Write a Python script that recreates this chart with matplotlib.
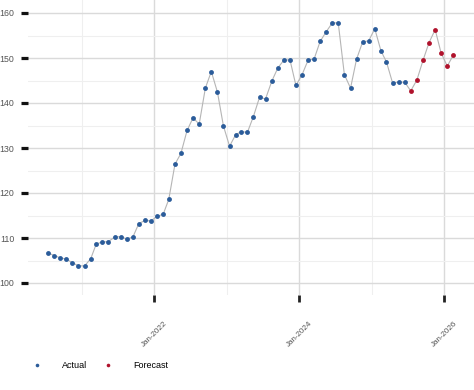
import matplotlib
matplotlib.use("Agg")
import matplotlib.pyplot as plt
import matplotlib.dates as mdates
from matplotlib.lines import Line2D
import datetime as dt

actual_start = (2020, 7)
actual_values = [106.7, 106.1, 105.6, 105.3, 104.5, 103.8,
                 103.8, 105.4, 108.7, 109.1, 109.2, 110.2, 110.3, 109.8, 110.2, 113.2, 113.9, 113.8,
                 114.8, 115.3, 118.6, 126.4, 128.8, 133.9, 136.7, 135.3, 143.3, 147.0, 142.4, 134.9,
                 130.4, 133.0, 133.6, 133.5, 137.0, 141.3, 140.9, 144.8, 147.8, 149.5, 149.6, 143.9,
                 146.3, 149.6, 149.7, 153.7, 155.8, 157.8, 157.8, 146.3, 143.3, 149.7, 153.6, 153.8,
                 156.5, 151.6, 149.1, 144.4, 144.7, 144.6]
forecast_values = [142.7, 145.1, 149.5, 153.4, 156.3, 151.1, 148.2, 150.7]
tick_labels = ["Jan-2022", "Jan-2024", "Jan-2026"]
legend_labels = ["Actual", "Forecast"]


def month_dates(start, n):
    y, m = start
    out = []
    for _ in range(n):
        out.append(dt.date(y, m, 15))
        m += 1
        if m > 12:
            m = 1
            y += 1
    return out


all_dates = month_dates(actual_start, len(actual_values) + len(forecast_values))
act_dates = all_dates[:len(actual_values)]
fc_dates = all_dates[len(actual_values):]

fig = plt.figure(figsize=(4.74, 3.9), dpi=100)
ax = fig.add_axes([28 / 474, 1 - 295 / 390, 1 - 28 / 474, 295 / 390])

blue = "#2b5c9a"
red = "#b0122c"
grid_major = "#dadada"
grid_minor = "#efefef"

ax.plot(all_dates, actual_values + forecast_values, color="#b5b5b5", lw=0.8, zorder=2)
ax.plot(act_dates, actual_values, "o", color=blue, ms=3.5, mec="none", zorder=3)
ax.plot(fc_dates, forecast_values, "o", color=red, ms=3.5, mec="none", zorder=3)

ax.set_ylim(100 - 12 / 4.5, 100 + 295 / 4.5 - 12 / 4.5)
x0 = mdates.date2num(dt.date(2022, 1, 1))
per_day = 145 / 730.0
ax.set_xlim(x0 + (28 - 154.3) / per_day, x0 + (474 - 154.3) / per_day)

ax.set_yticks([100, 110, 120, 130, 140, 150, 160])
ax.set_yticks([105, 115, 125, 135, 145, 155], minor=True)
major_x = [dt.date(2022, 1, 1), dt.date(2024, 1, 1), dt.date(2026, 1, 1)]
minor_x = [dt.date(2021, 1, 1), dt.date(2023, 1, 1), dt.date(2025, 1, 1)]
ax.set_xticks([mdates.date2num(d) for d in major_x])
ax.set_xticklabels(tick_labels, rotation=45, ha="center",
                   color="#555555", fontsize=5.8, family="Liberation Sans")
ax.set_xticks([mdates.date2num(d) for d in minor_x], minor=True)

ax.grid(True, which="major", color=grid_major, lw=1.0, zorder=0)
ax.grid(True, which="minor", color=grid_minor, lw=0.8, zorder=0)
ax.set_axisbelow(True)

for s in ax.spines.values():
    s.set_visible(False)

ax.tick_params(axis="y", which="major", length=4.8, width=2.3, color="#111111",
               labelsize=6.3, labelcolor="#555555", pad=5, direction="out")
ax.tick_params(axis="x", which="major", length=5, width=2.0, color="#222222",
               pad=13, direction="out")
ax.tick_params(which="minor", length=0)
for lab in ax.get_yticklabels():
    lab.set_family("Liberation Sans")

handles = [Line2D([], [], ls="none", marker="o", color=blue, ms=2.6, mec="none"),
           Line2D([], [], ls="none", marker="o", color=red, ms=2.6, mec="none")]
fig.legend(handles, legend_labels, loc="center left", bbox_to_anchor=(30.2 / 474, 1 - 366 / 390),
           ncol=2, frameon=False, handlelength=1.5, handletextpad=2.0,
           columnspacing=1.6, borderpad=0, borderaxespad=0,
           prop={"family": "Liberation Sans", "size": 6.5})

fig.savefig("out.png", dpi=100)
